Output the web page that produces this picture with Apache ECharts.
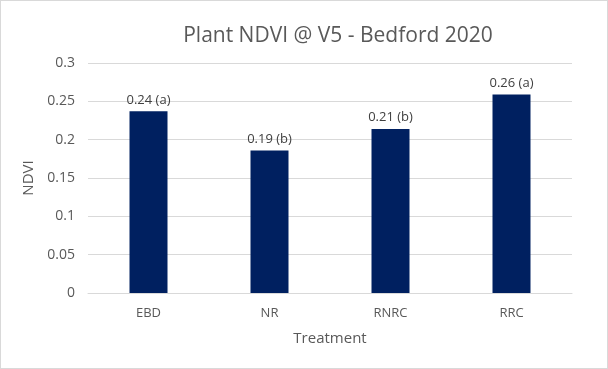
<!DOCTYPE html>
<html><head><meta charset="utf-8">
<script src="https://cdn.jsdelivr.net/npm/echarts@6/dist/echarts.min.js"></script>
<style>html,body{margin:0;padding:0;background:#fff}#c{width:608px;height:369px;box-sizing:border-box;border:1px solid #d9d9d9}</style>
</head><body><div id="c"></div>
<script>
const categories = ['EBD', 'NR', 'RNRC', 'RRC'];
const values = [0.237, 0.186, 0.214, 0.259];
const labels = ['0.24 (a)', '0.19 (b)', '0.21 (b)', '0.26 (a)'];
const yTicks = [0, 0.05, 0.1, 0.15, 0.2, 0.25, 0.3];

const font = 'Open Sans, Liberation Sans, sans-serif';
const chart = echarts.init(document.getElementById('c'));
chart.setOption({
  animation: false,
  title: {text: 'Plant NDVI @ V5 - Bedford 2020', left: 332, textAlign: 'center', top: 20,
    textStyle: {fontFamily: font, fontSize: 21, fontWeight: 'normal', color: '#595959'}},
  grid: {left: 87, right: 35, top: 62, bottom: 75},
  xAxis: {type: 'category', data: categories,
    name: 'Treatment', nameLocation: 'middle', nameGap: 38,
    nameTextStyle: {fontFamily: font, fontSize: 15, color: '#595959'},
    axisLine: {lineStyle: {color: '#d9d9d9'}}, axisTick: {show: false},
    axisLabel: {fontFamily: font, fontSize: 13, color: '#595959', margin: 14}},
  yAxis: {type: 'value', min: 0, max: 0.3, interval: 0.05,
    name: 'NDVI', nameLocation: 'middle', nameGap: 44,
    nameTextStyle: {fontFamily: font, fontSize: 15, color: '#595959'},
    axisLabel: {fontFamily: font, fontSize: 14, color: '#595959', margin: 13,
      formatter: v => { const t = yTicks.find(x => Math.abs(x - v) < 1e-9); return String(t !== undefined ? t : v); }},
    splitLine: {lineStyle: {color: '#d9d9d9'}}},
  series: [{type: 'bar', data: values, barWidth: 38,
    itemStyle: {color: '#002060'},
    label: {show: true, position: 'top', distance: 5, fontFamily: font, fontSize: 13, color: '#404040',
      formatter: p => labels[p.dataIndex]}}]
});
</script></body></html>
